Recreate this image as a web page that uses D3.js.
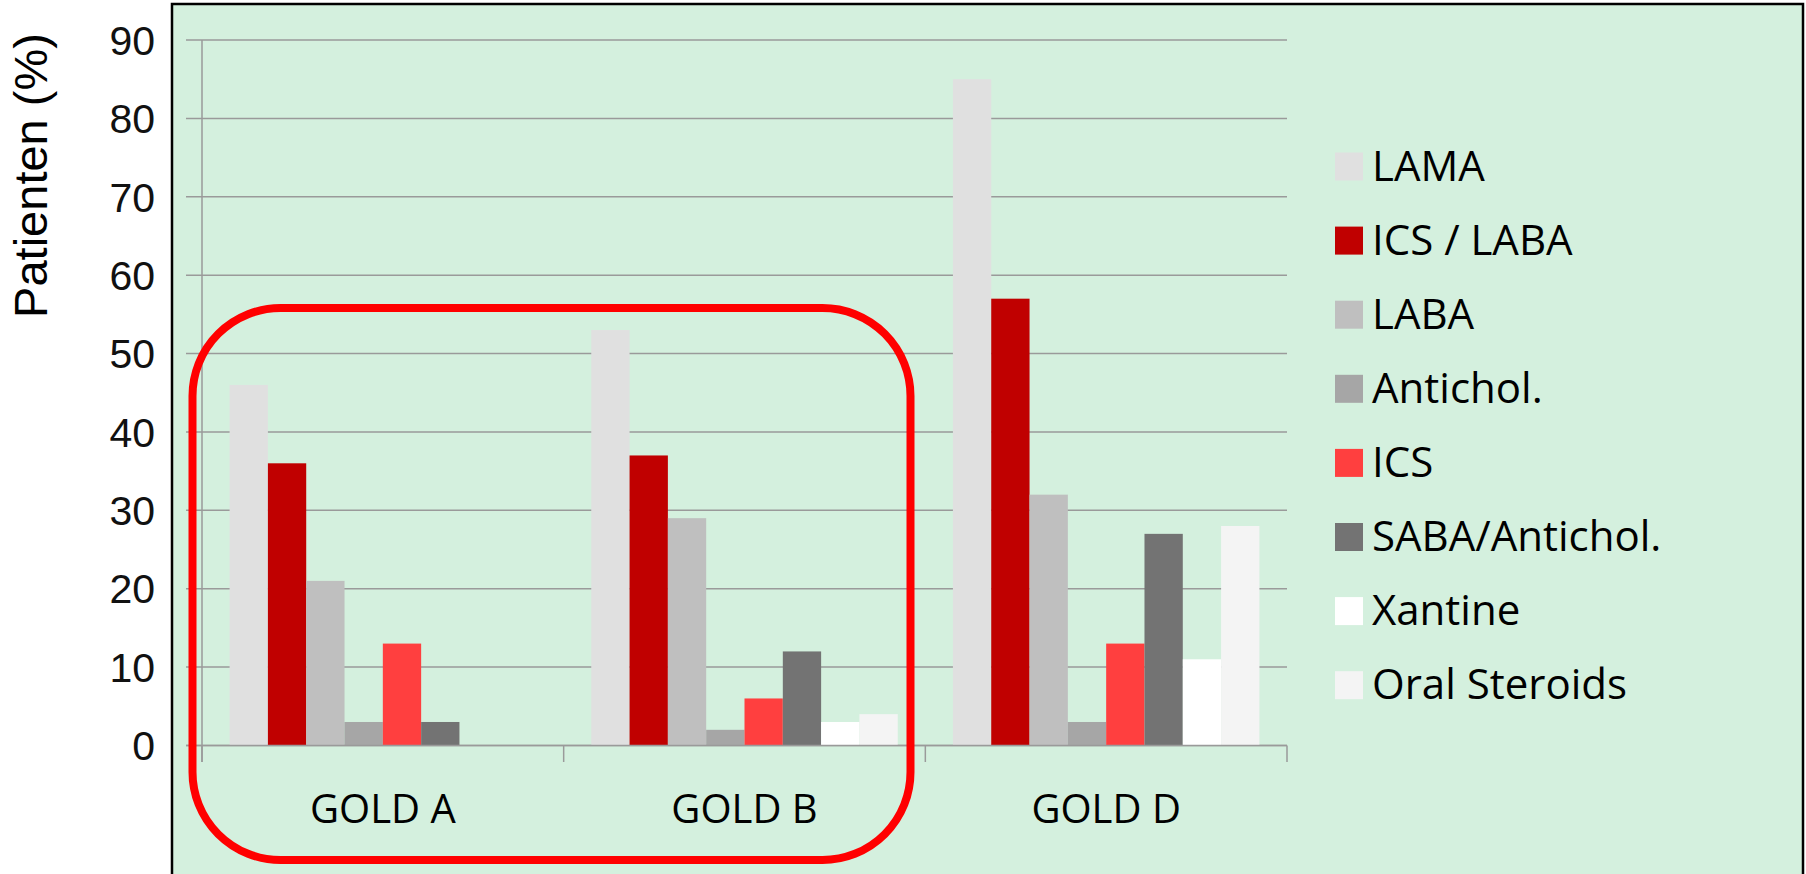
<!DOCTYPE html>
<html>
<head>
<meta charset="utf-8">
<script src="https://cdn.jsdelivr.net/npm/d3@7"></script>
<style>
  html, body { margin: 0; padding: 0; background: #ffffff; }
  svg { display: block; }
</style>
</head>
<body>
<svg id="chart" width="1806" height="874"></svg>
<script>
// Treatment categories (x axis groups)
const categories = ["GOLD A", "GOLD B", "GOLD D"];

// Medication classes (one bar per class within each group)
const seriesNames = ["LAMA", "ICS / LABA", "LABA", "Antichol.", "ICS", "SABA/Antichol.", "Xantine", "Oral Steroids"];
const seriesColors = ["#e0e0e0", "#c00000", "#bfbfbf", "#a6a6a6", "#ff3f3f", "#737373", "#ffffff", "#f4f4f4"];

// Share of patients (%) per class, in category order
const lama        = [46, 53, 85];
const icsLaba     = [36, 37, 57];
const laba        = [21, 29, 32];
const antichol    = [3, 2, 3];
const ics         = [13, 6, 13];
const sabaAntich  = [3, 12, 27];
const xantine     = [0, 3, 11];
const oralSteroid = [0, 4, 28];

const yTicks = [0, 10, 20, 30, 40, 50, 60, 70, 80, 90];
const yTitle = "Patienten (%)";

const seriesValues = [lama, icsLaba, laba, antichol, ics, sabaAntich, xantine, oralSteroid];

const svg = d3.select("#chart");

// Green panel behind the plot and legend
svg.append("rect")
  .attr("x", 172).attr("y", 4)
  .attr("width", 1631).attr("height", 880)
  .attr("fill", "#d4f0de")
  .attr("stroke", "#000000")
  .attr("stroke-width", 2.5);

const plotLeft = 202, plotRight = 1287;
const y = d3.scaleLinear().domain([0, 90]).range([745.5, 40]);
const x0 = d3.scaleBand().domain(categories).range([plotLeft, plotRight]).padding(0);
const x1 = d3.scaleBand().domain(seriesNames).range([0, x0.bandwidth()])
  .paddingInner(0).paddingOuter(0.72);
const color = d3.scaleOrdinal().domain(seriesNames).range(seriesColors);

// Horizontal gridlines (with short outside ticks)
svg.append("g").selectAll("line")
  .data(yTicks)
  .join("line")
  .attr("x1", 186).attr("x2", plotRight)
  .attr("y1", d => y(d)).attr("y2", d => y(d))
  .attr("stroke", "#9a9a9a")
  .attr("stroke-width", 1.5);

// Vertical axis line
svg.append("line")
  .attr("x1", plotLeft).attr("x2", plotLeft)
  .attr("y1", y(90)).attr("y2", 762)
  .attr("stroke", "#9a9a9a").attr("stroke-width", 1.5);

// Category separators below the baseline
svg.append("g").selectAll("line")
  .data(categories.map(c => x0(c)).concat([plotRight]))
  .join("line")
  .attr("x1", d => d).attr("x2", d => d)
  .attr("y1", y(0)).attr("y2", 762)
  .attr("stroke", "#9a9a9a").attr("stroke-width", 1.5);

// Y tick labels
svg.append("g").selectAll("text")
  .data(yTicks)
  .join("text")
  .attr("x", 155)
  .attr("y", d => y(d))
  .attr("dy", "0.36em")
  .attr("text-anchor", "end")
  .attr("font-family", "'Liberation Sans', Arial, sans-serif")
  .attr("font-size", 41)
  .attr("fill", "#111")
  .text(d => d);

// Y axis title
svg.append("text")
  .attr("transform", "translate(46.5,175.5) rotate(-90)")
  .attr("text-anchor", "middle")
  .attr("font-family", "'Liberation Sans', Arial, sans-serif")
  .attr("font-size", 47)
  .attr("fill", "#000")
  .text(yTitle);

// Bars
const groups = svg.append("g").selectAll("g")
  .data(categories)
  .join("g")
  .attr("transform", d => `translate(${x0(d)},0)`);

groups.selectAll("rect")
  .data((c, ci) => seriesNames.map((s, si) => ({ series: s, value: seriesValues[si][ci] })))
  .join("rect")
  .attr("x", d => x1(d.series))
  .attr("width", x1.bandwidth())
  .attr("y", d => y(d.value))
  .attr("height", d => y(0) - y(d.value))
  .attr("fill", d => color(d.series));

// Baseline drawn over the bars
svg.append("line")
  .attr("x1", 186).attr("x2", plotRight)
  .attr("y1", y(0)).attr("y2", y(0))
  .attr("stroke", "#9a9a9a").attr("stroke-width", 1.5);

// Category labels
svg.append("g").selectAll("text")
  .data(categories)
  .join("text")
  .attr("x", d => x0(d) + x0.bandwidth() / 2)
  .attr("y", 822.5)
  .attr("text-anchor", "middle")
  .attr("font-family", "'Open Sans', sans-serif")
  .attr("font-size", 40)
  .attr("fill", "#000")
  .text(d => d);

// Legend
const legend = svg.append("g").selectAll("g")
  .data(seriesNames)
  .join("g")
  .attr("transform", (d, i) => `translate(1335,${166.5 + i * 74.1})`);

legend.append("rect")
  .attr("x", 0).attr("y", -14)
  .attr("width", 28).attr("height", 28)
  .attr("fill", d => color(d));

legend.append("text")
  .attr("x", 37)
  .attr("y", 14)
  .attr("font-family", "'Open Sans', sans-serif")
  .attr("font-size", 42)
  .attr("fill", "#000")
  .text(d => d);

// Rounded highlight frame around the first two groups
svg.append("rect")
  .attr("x", 192.5).attr("y", 308)
  .attr("width", 910.5 - 192.5).attr("height", 860 - 308)
  .attr("rx", 88).attr("ry", 88)
  .attr("fill", "none")
  .attr("stroke", "#ff0000")
  .attr("stroke-width", 8);
</script>
</body>
</html>
